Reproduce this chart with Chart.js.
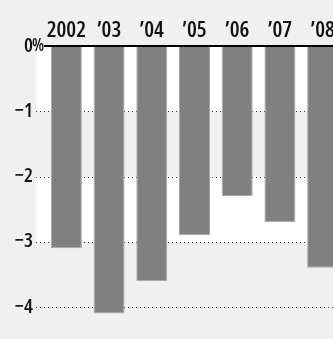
<!DOCTYPE html>
<html>
<head>
<meta charset="utf-8">
<script src="https://cdn.jsdelivr.net/npm/chart.js@4"></script>
<style>
  body { margin: 0; overflow: hidden; background: #f0f0f0; }
  canvas { display: block; }
</style>
</head>
<body>
<canvas id="grafico" width="344" height="339"></canvas>
<script>
const anios = ["2002", "\u201903", "\u201904", "\u201905", "\u201906", "\u201907", "\u201908"];
const variacion = [-3.1, -4.1, -3.6, -2.9, -2.3, -2.7, -3.4];
const marcasY = [0, -1, -2, -3, -4];
const bandasBlancas = [[0, -1], [-2, -3]];

const fuente = "'Open Sans', sans-serif";
// "condensed" va junto al peso para que entre en el string de ctx.font
const pesoAngosto = "condensed 600";

// fondo, bandas, linea punteada y linea del cero
const decorado = {
  id: "decorado",
  beforeDraw: (chart) => {
    const { ctx, chartArea } = chart;
    const y = chart.scales.y;
    ctx.save();
    ctx.fillStyle = "#f0f0f0";
    ctx.fillRect(0, 0, chart.width, chart.height);
    ctx.fillStyle = "#ffffff";
    bandasBlancas.forEach(([a, b]) => {
      const y1 = y.getPixelForValue(a);
      const y2 = y.getPixelForValue(b);
      ctx.fillRect(36, y1, chartArea.right - 36, y2 - y1);
    });
    ctx.restore();
  },
  beforeDatasetsDraw: (chart) => {
    const { ctx, chartArea } = chart;
    const y = chart.scales.y;
    ctx.save();
    ctx.strokeStyle = "#333";
    ctx.lineWidth = 1;
    ctx.setLineDash([1, 3]);
    marcasY.filter((v) => v !== 0).forEach((v) => {
      const py = Math.round(y.getPixelForValue(v)) + 0.5;
      ctx.beginPath();
      ctx.moveTo(36, py);
      ctx.lineTo(chartArea.right, py);
      ctx.stroke();
    });
    ctx.restore();
  },
  afterDatasetsDraw: (chart) => {
    const { ctx, chartArea } = chart;
    const y0 = chart.scales.y.getPixelForValue(0);
    ctx.save();
    ctx.fillStyle = "#000";
    ctx.fillRect(chartArea.left - 1, y0 - 1, chartArea.right - chartArea.left + 1, 2);
    ctx.fillStyle = "#111";
    ctx.font = pesoAngosto + " 17px " + fuente;
    ctx.textAlign = "left";
    ctx.textBaseline = "alphabetic";
    ctx.fillText("%", 32, y0 + 5);
    ctx.restore();
  },
};

new Chart(document.getElementById("grafico"), {
  type: "bar",
  data: {
    labels: anios,
    datasets: [
      {
        data: variacion,
        backgroundColor: "#808080",
        borderColor: "#a9a9a9",
        borderWidth: 1,
        borderSkipped: "start",
        barPercentage: 0.726,
        categoryPercentage: 1,
      },
    ],
  },
  options: {
    responsive: false,
    animation: false,
    devicePixelRatio: 1,
    layout: { padding: 0 },
    plugins: { legend: { display: false }, tooltip: { enabled: false } },
    scales: {
      x: {
        position: "top",
        grid: { display: false, drawTicks: false },
        border: { display: false },
        ticks: {
          color: "#111",
          padding: 2,
          maxRotation: 0,
          autoSkip: false,
          font: { family: fuente, size: 22, weight: pesoAngosto },
        },
        afterFit: (scale) => {
          scale.height = 46;
          scale.paddingLeft = 0;
          scale.paddingRight = 0;
        },
      },
      y: {
        min: -4.49,
        max: 0,
        grid: { display: false, drawTicks: false },
        border: { display: false },
        afterBuildTicks: (scale) => {
          scale.ticks = marcasY.map((v) => ({ value: v }));
        },
        ticks: {
          color: "#111",
          padding: 12,
          font: { family: fuente, size: 20, weight: pesoAngosto },
          callback: (v) => (v === 0 ? "0" : "\u2212" + Math.abs(v)),
        },
        afterFit: (scale) => {
          scale.width = 45;
          scale.paddingTop = 0;
          scale.paddingBottom = 0;
        },
      },
    },
  },
  plugins: [decorado],
});
</script>
</body>
</html>
